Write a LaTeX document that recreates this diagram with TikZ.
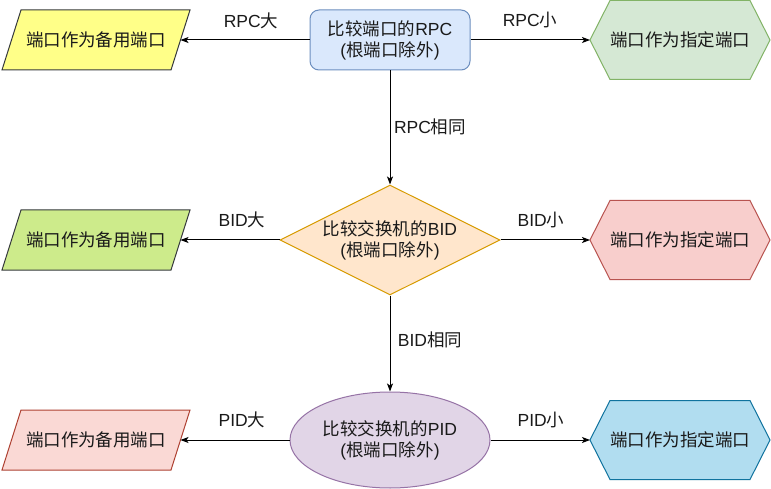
\documentclass[tikz,border=0pt]{standalone}
\usepackage{fontspec}
\setmainfont{Liberation Sans}
\newfontfamily\cjk{Noto Sans CJK SC}
\usetikzlibrary{shapes.geometric,arrows.meta}
\newcommand{\zh}[1]{{\cjk #1}}
\definecolor{bluefill}{HTML}{DAE8FC}\definecolor{bluedraw}{HTML}{6C8EBF}
\definecolor{greenfill}{HTML}{D5E8D4}\definecolor{greendraw}{HTML}{82B366}
\definecolor{orangefill}{HTML}{FFE6CC}\definecolor{orangedraw}{HTML}{D79B00}
\definecolor{redfill}{HTML}{F8CECC}\definecolor{reddraw}{HTML}{B85450}
\definecolor{purplefill}{HTML}{E1D5E7}\definecolor{purpledraw}{HTML}{9673A6}
\definecolor{yellowfill}{HTML}{FFFF88}\definecolor{greydraw}{HTML}{36393D}
\definecolor{limefill}{HTML}{CDEB8B}
\definecolor{salmonfill}{HTML}{FAD9D5}\definecolor{salmondraw}{HTML}{AE4132}
\definecolor{cyanfill}{HTML}{B1DDF0}\definecolor{cyandraw}{HTML}{10739E}
\definecolor{txt}{HTML}{1A1A1A}
\begin{document}
\begin{tikzpicture}[x=1pt,y=-1pt,
  every node/.style={font=\fontsize{17.5}{21}\selectfont, text=txt},
  shapebase/.style={line width=1pt, inner sep=0pt, align=center},
  outline/.style={line width=1pt, line join=miter},
  conn/.style={line width=1pt, -{Stealth[length=8pt,width=6pt,inset=2pt]}},
  lbl/.style={inner sep=0pt}]
\useasboundingbox (0,0) rectangle (771,489);
\fill[white] (0,0) rectangle (771,489);
% parallelograms (left column)
\foreach \yc/\fc/\dc in {40/yellowfill/greydraw, 240/limefill/greydraw, 440/salmonfill/salmondraw}{
  \filldraw[outline, fill=\fc, draw=\dc] (21,\yc-30) -- (190,\yc-30) -- (171,\yc+30) -- (2,\yc+30) -- cycle;
}
% hexagons (right column)
\foreach \yc/\fc/\dc in {40/greenfill/greendraw, 240/redfill/reddraw, 440/cyanfill/cyandraw}{
  \filldraw[outline, fill=\fc, draw=\dc] (590,\yc) -- (610,\yc-39.5) -- (750,\yc-39.5) -- (770,\yc) -- (750,\yc+39.5) -- (610,\yc+39.5) -- cycle;
}
% row 1
\node[shapebase, rectangle, rounded corners=9pt, fill=bluefill, draw=bluedraw,
  minimum width=160pt, minimum height=60pt] (rpc) at (390,40)
  {\zh{比较端口的}RPC\\(\zh{根端口除外})};
\node (p1) at (96,40) {\zh{端口作为备用端口}};
\coordinate (p1e) at (180.5,40);
\node (h1) at (680,40) {\zh{端口作为指定端口}};
\coordinate (h1w) at (590,40);
% row 2
\node[shapebase, diamond, aspect=2, fill=orangefill, draw=orangedraw,
  minimum width=220pt, minimum height=110pt] (bid) at (390,240)
  {\zh{比较交换机的}BID\\(\zh{根端口除外})};
\node (p2) at (96,240) {\zh{端口作为备用端口}};
\coordinate (p2e) at (180.5,240);
\node (h2) at (680,240) {\zh{端口作为指定端口}};
\coordinate (h2w) at (590,240);
% row 3
\node[shapebase, ellipse, fill=purplefill, draw=purpledraw,
  minimum width=200pt, minimum height=96pt] (pid) at (390,440)
  {\zh{比较交换机的}PID\\(\zh{根端口除外})};
\node (p3) at (96,440) {\zh{端口作为备用端口}};
\coordinate (p3e) at (180.5,440);
\node (h3) at (680,440) {\zh{端口作为指定端口}};
\coordinate (h3w) at (590,440);
% connectors
\draw[conn] (rpc.west) -- (p1e);
\draw[conn] (rpc.east) -- (h1w);
\draw[conn] (rpc.south) -- (bid.north);
\draw[conn] (bid.west) -- (p2e);
\draw[conn] (bid.east) -- (h2w);
\draw[conn] (bid.south) -- (pid.north);
\draw[conn] (pid.west) -- (p3e);
\draw[conn] (pid.east) -- (h3w);
% labels
\node[lbl] (l1) at (251,21) {RPC\zh{大}};
\node[lbl] (l2) at (530,20) {RPC\zh{小}};
\node[lbl] (l3) at (430,127) {RPC\zh{相同}};
\node[lbl] (l4) at (242,220) {BID\zh{大}};
\node[lbl] (l5) at (541,220) {BID\zh{小}};
\node[lbl] (l6) at (430,340) {BID\zh{相同}};
\node[lbl] (l7) at (242,420) {PID\zh{大}};
\node[lbl] (l8) at (541,420) {PID\zh{小}};
\end{tikzpicture}
\end{document}
